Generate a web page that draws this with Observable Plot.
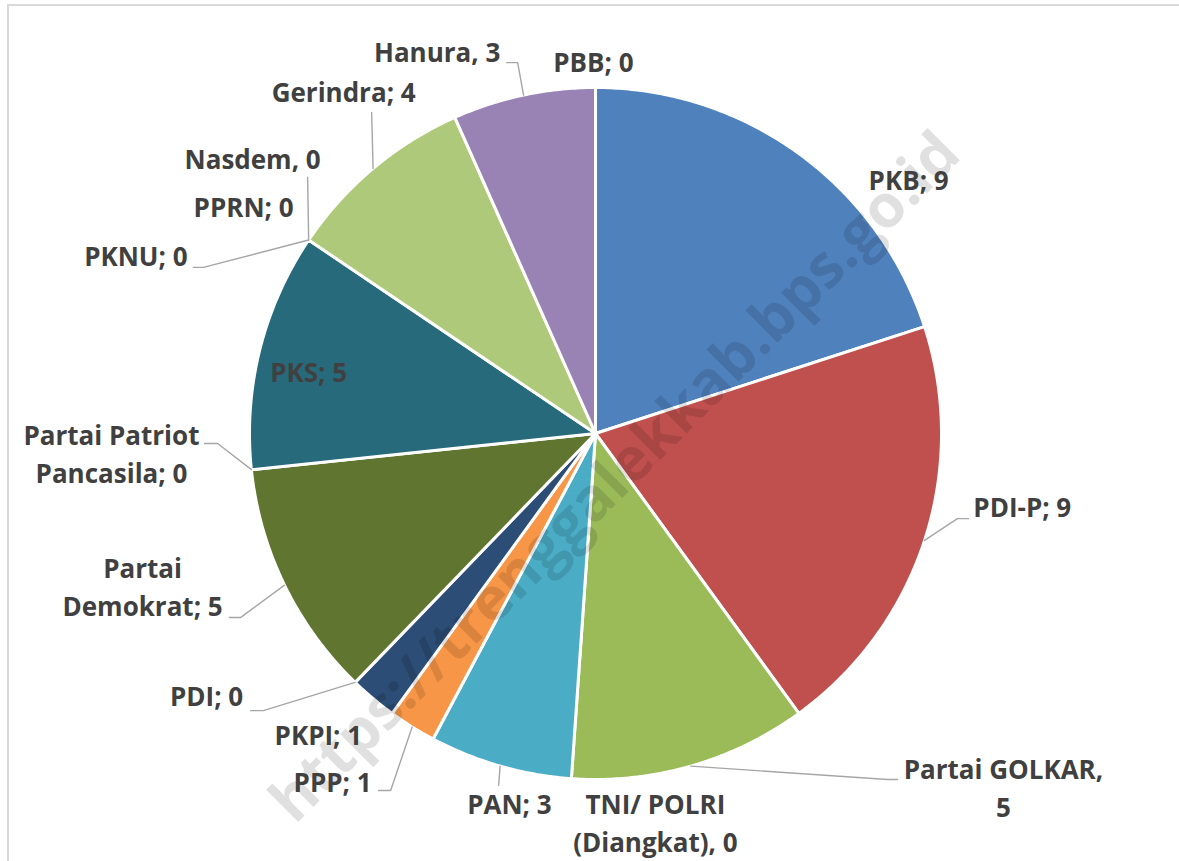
<!DOCTYPE html>
<html>
<head>
<meta charset="utf-8">
<script src="https://cdn.jsdelivr.net/npm/d3@7"></script>
<script src="https://cdn.jsdelivr.net/npm/@observablehq/plot@0.6"></script>
<style>
  html, body { margin: 0; padding: 0; background: #fff; overflow: hidden; }
  #wrap { position: relative; width: 1179px; height: 861px; }
  #border { position: absolute; left: 7px; top: 4px; width: 1300px; height: 1000px;
            border-left: 2px solid #d9d9d9; border-top: 2px solid #d9d9d9; pointer-events: none; }
</style>
</head>
<body>
<div id="wrap"><div id="border"></div></div>
<script>
// ---- data ----
const parties = ["PKB","PDI-P","Partai GOLKAR","TNI/ POLRI (Diangkat)","PAN","PPP","PKPI","PDI",
  "Partai Demokrat","Partai Patriot Pancasila","PKS","PKNU","PPRN","Nasdem","Gerindra","Hanura","PBB"];
const seats = [9, 9, 5, 0, 3, 1, 1, 0, 5, 0, 5, 0, 0, 0, 4, 3, 0];
const colors = ["#4F81BD","#C0504D","#9BBB59","#8064A2","#4BACC6","#F79646","#2C4D75","#772C2A",
  "#5F7530","#4D3B62","#276A7C","#B65708","#729ACA","#CD7371","#AFC97A","#9983B5","#A5A5A5"];
const labelNames = ["PKB","PDI-P","Partai GOLKAR","TNI/ POLRI\n(Diangkat)","PAN","PPP","PKPI","PDI",
  "Partai\nDemokrat","Partai Patriot\nPancasila","PKS","PKNU","PPRN","Nasdem","Gerindra","Hanura","PBB"];
const labelSeps = ["; ","; ",",\n",", ","; ","; ","; ","; ","; ","; ","; ","; ","; ",", ","; ",", ","; "];
const watermark = "https://trenggalekkab.bps.go.id";

// ---- label layout (in pie-radius units, centre = 0,0) ----
const labelX = [0.905, 1.092, 1.179, 0.173, -0.249, -0.647, -0.801, -1.124, -1.309, -1.399, -0.829, -1.179, -1.017, -0.991, -0.936, -0.275, -0.006];
const labelY = [0.728, -0.217, -1.029, -1.130, -1.075, -1.012, -0.876, -0.763, -0.449, -0.065, 0.173, 0.509, 0.650, 0.789, 0.983, 1.098, 1.069];
const labelAnchor = ["middle","start","middle","middle","middle","end","middle","middle","middle","middle","middle","end","middle","middle","start","end","middle"];
const leaderBends = [
  [], [[1.046,-0.246],[1.078,-0.246]], [[0.844,-1.0],[0.873,-1.0]], [], [[-0.280,-1.017]],
  [[-0.592,-1.032],[-0.627,-1.032]], [], [[-0.960,-0.801],[-0.997,-0.801]],
  [[-1.026,-0.532],[-1.058,-0.532]], [[-1.092,-0.029],[-1.130,-0.029]], [],
  [[-1.133,0.480],[-1.162,0.480]], [], [[-0.832,0.740]], [[-0.647,0.928]],
  [[-0.225,1.072],[-0.257,1.072]], []
];

// ---- build geometry from data ----
const total = d3.sum(seats);
let cum = 0;
const slices = parties.map((p, i) => {
  const a0 = cum / total * 2 * Math.PI;
  cum += seats[i];
  const a1 = cum / total * 2 * Math.PI;
  return {party: p, value: seats[i], color: colors[i], a0, a1, mid: (a0 + a1) / 2, i};
});
const polyPts = [];
for (const s of slices) {
  if (s.value <= 0) continue;
  polyPts.push({party: s.party, color: s.color, x: 0, y: 0});
  const n = Math.max(2, Math.ceil((s.a1 - s.a0) / (Math.PI / 360)));
  for (let k = 0; k <= n; k++) {
    const a = s.a0 + (s.a1 - s.a0) * k / n;
    polyPts.push({party: s.party, color: s.color, x: Math.sin(a), y: Math.cos(a)});
  }
  polyPts.push({party: s.party, color: s.color, x: 0, y: 0});
}
const leaderPts = [];
slices.forEach((s, i) => {
  if (!leaderBends[i].length) return;
  leaderPts.push({party: s.party, x: 1.0 * Math.sin(s.mid), y: 1.0 * Math.cos(s.mid)});
  for (const [bx, by] of leaderBends[i]) leaderPts.push({party: s.party, x: bx, y: by});
});
const labelData = slices.map((s, i) => ({
  text: labelNames[i] + labelSeps[i] + s.value,
  x: labelX[i], y: labelY[i], anchor: labelAnchor[i]
}));

const textOpts = (anchor) => ({
  filter: d => d.anchor === anchor,
  x: "x", y: "y", text: "text", textAnchor: anchor, dy: -4,
  fontSize: 26, fontWeight: "bold", fill: "#404040", lineHeight: 1.46, lineAnchor: "middle"
});

const chart = Plot.plot({
  width: 1179, height: 861,
  marginLeft: 249, marginRight: 238, marginTop: 87, marginBottom: 82,
  x: {domain: [-1, 1], axis: null},
  y: {domain: [-1, 1], axis: null},
  style: {fontFamily: "'Open Sans', 'DejaVu Sans', sans-serif", background: "transparent"},
  marks: [
    Plot.line(polyPts, {x: "x", y: "y", z: "party", fill: "color", stroke: "white",
      strokeWidth: 3, strokeLinejoin: "round"}),
    Plot.line(leaderPts, {x: "x", y: "y", z: "party", stroke: "#a6a6a6", strokeWidth: 1.4}),
    Plot.text([watermark], {text: d => d, frameAnchor: "middle", dx: 20, dy: 44, rotate: -45,
      fontSize: 60, fontWeight: "bold", fill: "#000", fillOpacity: 0.12}),
    Plot.text(labelData, textOpts("middle")),
    Plot.text(labelData, textOpts("start")),
    Plot.text(labelData, textOpts("end"))
  ]
});
chart.style.position = "absolute";
chart.style.left = "0px";
chart.style.top = "0px";
document.getElementById("wrap").prepend(chart);
</script>
</body>
</html>
